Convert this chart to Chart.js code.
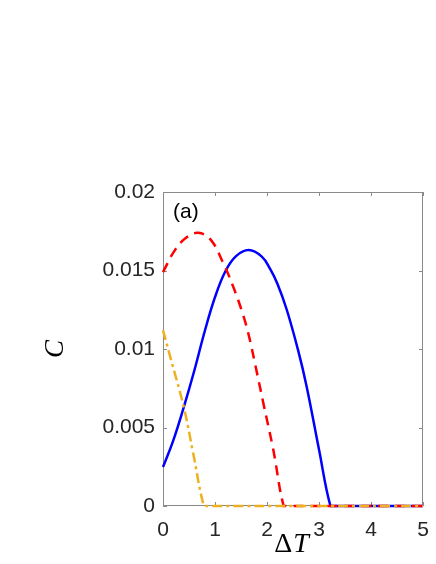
<!DOCTYPE html>
<html>
<head>
<meta charset="utf-8">
<script src="https://cdn.jsdelivr.net/npm/chart.js@4/dist/chart.umd.min.js"></script>
<style>
  body { margin: 0; background: #fff; }
  canvas { display: block; }
</style>
</head>
<body>
<canvas id="grafica" width="436" height="564"></canvas>
<script>
// valores (a)
const xTicks = [0, 1, 2, 3, 4, 5];
const yTicks = [0, 0.005, 0.01, 0.015, 0.02];
const yTickLabels = ['0', '0.005', '0.01', '0.015', '0.02'];

const azulX = [0, 0.2, 0.4, 0.6, 0.8, 1.0, 1.2, 1.4, 1.65, 1.9, 2.06, 2.2, 2.38, 2.6, 2.76, 3.0, 3.22, 3.3, 5];
const azulY = [0.00248, 0.0042, 0.0063, 0.0086, 0.0111, 0.0133, 0.01495, 0.0159, 0.0163, 0.01588, 0.0151, 0.01415, 0.0125, 0.0099, 0.00765, 0.0036, 0, 0, 0];

const rojoX = [0, 0.23, 0.45, 0.68, 0.92, 1.16, 1.35, 1.51, 1.64, 1.78, 1.93, 2.12, 2.32, 2.4, 5];
const rojoY = [0.0149, 0.0163, 0.0171, 0.0174, 0.01695, 0.01546, 0.01397, 0.01248, 0.0110, 0.0089, 0.00655, 0.0036, 0, 0, 0];

const naranjaX = [0, 0.12, 0.4, 0.58, 0.785, 0.85, 5];
const naranjaY = [0.0112, 0.00973, 0.00629, 0.00336, 0, 0, 0];

const puntos = (xs, ys) => xs.map((x, i) => ({ x: x, y: ys[i] }));

const tickFont = { family: '"Liberation Sans", Arial, sans-serif', size: 21 };

const marco = {
    id: 'marco',
    beforeDatasetsDraw(chart) {
        const { ctx, chartArea: a, scales: { x, y } } = chart;
        ctx.save();
        ctx.strokeStyle = '#8a8a8a';
        ctx.lineWidth = 1;
        ctx.strokeRect(a.left + 0.5, a.top + 0.5, a.right - a.left - 1, a.bottom - a.top - 1);
        ctx.beginPath();
        xTicks.forEach(v => {
            const px = Math.round(x.getPixelForValue(v)) + 0.5;
            ctx.moveTo(px, a.bottom); ctx.lineTo(px, a.bottom - 4);
            ctx.moveTo(px, a.top); ctx.lineTo(px, a.top + 4);
        });
        yTicks.forEach(v => {
            const py = Math.round(y.getPixelForValue(v)) + 0.5;
            ctx.moveTo(a.left, py); ctx.lineTo(a.left + 4, py);
            ctx.moveTo(a.right, py); ctx.lineTo(a.right - 4, py);
        });
        ctx.stroke();
        ctx.restore();
    },
    afterDraw(chart) {
        const { ctx, chartArea: a } = chart;
        ctx.save();
        ctx.fillStyle = '#000';
        // etiqueta del panel
        ctx.font = '21px "Liberation Sans", Arial, sans-serif';
        ctx.textAlign = 'left';
        ctx.textBaseline = 'middle';
        ctx.fillText('(a)', a.left + 10, a.top + 20);

        // titulo eje x: Delta recto, T cursiva
        ctx.textBaseline = 'alphabetic';
        ctx.font = '28px "Liberation Serif", serif';
        const wD = ctx.measureText('Δ').width;
        ctx.font = 'italic 28px "Liberation Serif", serif';
        const wT = ctx.measureText('T').width;
        const x0 = (a.left + a.right) / 2 - (wD + wT) / 2 - 2;
        ctx.font = '28px "Liberation Serif", serif';
        ctx.fillText('Δ', x0, 552);
        ctx.font = 'italic 28px "Liberation Serif", serif';
        ctx.fillText('T', x0 + wD + 1, 552);

        // titulo eje y
        ctx.translate(62.5, (a.top + a.bottom) / 2);
        ctx.rotate(-Math.PI / 2);
        ctx.textAlign = 'center';
        ctx.font = 'italic 27px "Liberation Serif", serif';
        ctx.fillText('C', 0, 0);
        ctx.restore();
    }
};

new Chart(document.getElementById('grafica'), {
    type: 'line',
    data: {
        datasets: [
            {
                data: puntos(naranjaX, naranjaY),
                borderColor: '#EDB120',
                borderWidth: 2.5,
                borderDash: [10, 4, 3, 4],
                order: 0
            },
            {
                data: puntos(rojoX, rojoY),
                borderColor: '#FF0000',
                borderWidth: 2.5,
                borderDash: [10, 7],
                order: 1
            },
            {
                data: puntos(azulX, azulY),
                borderColor: '#0000FF',
                borderWidth: 2.5,
                order: 2
            }
        ]
    },
    options: {
        responsive: false,
        animation: false,
        events: [],
        datasets: {
            line: { pointRadius: 0, tension: 0.4, fill: false, clip: false }
        },
        layout: { padding: { top: 192, right: 13, left: 0, bottom: 0 } },
        plugins: { legend: { display: false }, tooltip: { enabled: false } },
        scales: {
            x: {
                type: 'linear',
                min: 0,
                max: 5,
                afterBuildTicks: s => { s.ticks = xTicks.map(v => ({ value: v })); },
                afterFit: s => { s.height = 58; s.paddingLeft = 0; s.paddingRight = 0; },
                grid: { display: false, drawTicks: false },
                border: { display: false },
                ticks: { font: tickFont, color: '#262626', padding: 12, maxRotation: 0 }
            },
            y: {
                type: 'linear',
                min: 0,
                max: 0.02,
                afterBuildTicks: s => { s.ticks = yTicks.map(v => ({ value: v })); },
                afterFit: s => { s.width = 163; s.paddingTop = 0; s.paddingBottom = 0; },
                grid: { display: false, drawTicks: false },
                border: { display: false },
                ticks: {
                    font: tickFont,
                    color: '#262626',
                    padding: 8,
                    callback: (v, i) => yTickLabels[i]
                }
            }
        }
    },
    plugins: [marco]
});
</script>
</body>
</html>
